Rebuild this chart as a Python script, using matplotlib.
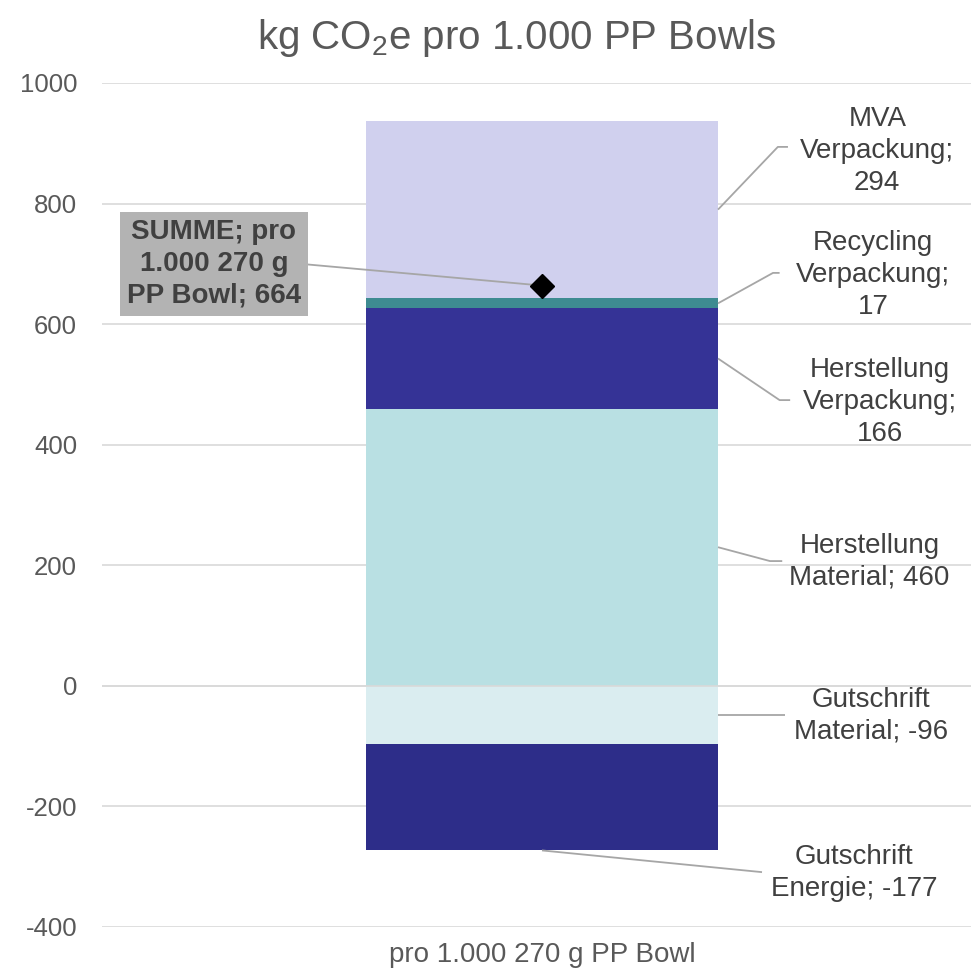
import matplotlib
matplotlib.use("Agg")
import matplotlib.pyplot as plt

plt.rcParams['font.family'] = ['Liberation Sans', 'DejaVu Sans']
plt.rcParams['axes.unicode_minus'] = False
plt.rcParams['mathtext.fontset'] = 'custom'
plt.rcParams['mathtext.rm'] = 'Liberation Sans'

# --- data -------------------------------------------------------------
category = "pro 1.000 270 g PP Bowl"

pos_names = ["Herstellung\nMaterial", "Herstellung\nVerpackung",
             "Recycling\nVerpackung", "MVA\nVerpackung"]
pos_values = [460, 166, 17, 294]
pos_breaks = [" ", "\n", "\n", "\n"]

neg_names = ["Gutschrift\nMaterial", "Gutschrift\nEnergie"]
neg_values = [-96, -177]
neg_breaks = [" ", " "]

total_name = "SUMME; pro\n1.000 270 g\nPP Bowl"

y_ticks = [-400, -200, 0, 200, 400, 600, 800, 1000]

# --- styling ----------------------------------------------------------
pos_colors = ["#b9e0e3", "#353396", "#3e8b91", "#d0d0ee"]
neg_colors = ["#daedf0", "#2d2d89"]
text_dark = "#404040"
tick_grey = "#595959"
grid_grey = "#d9d9d9"
leader_grey = "#a6a6a6"
bar_w = 0.4

# label centre, leader elbow and end of the short horizontal tail
pos_label_layout = [
    dict(xy=(0.372, 206), elbow=(0.259, 207), tail=0.273),
    dict(xy=(0.384, 471), elbow=(0.270, 474), tail=0.282),
    dict(xy=(0.376, 681), elbow=(0.2625, 685), tail=0.270),
    dict(xy=(0.381, 887), elbow=(0.268, 894), tail=0.2795),
]
neg_label_layout = [
    dict(xy=(0.374, -50), elbow=None, tail=0.276),
    dict(xy=(0.355, -311), elbow=None, tail=0.25),
]

fig = plt.figure(figsize=(9.71, 9.77), dpi=100)
ax = fig.add_axes([102 / 971, 50 / 977, 880 / 971, 844 / 977])
ax.set_xlim(-0.5, 0.5)
ax.set_ylim(min(y_ticks), max(y_ticks))

# grid
ax.set_yticks(y_ticks)
ax.yaxis.grid(True, color=grid_grey, linewidth=1.2, zorder=0)
ax.set_axisbelow(True)
for sp in ax.spines.values():
    sp.set_visible(False)
ax.tick_params(axis='both', length=0, colors=tick_grey)
ax.tick_params(axis='y', pad=18, labelsize=18.5)
ax.tick_params(axis='x', pad=11, labelsize=20)
ax.set_xticks([0])
ax.set_xticklabels([category])

lbl_kw = dict(fontsize=20, color=text_dark, ha='center', va='center',
              multialignment='center', linespacing=1.3, zorder=6)
line_kw = dict(color=leader_grey, linewidth=1.3, zorder=5,
               solid_capstyle='butt', clip_on=False)

# positive stack
bottom = 0
for name, val, brk, col, lay in zip(pos_names, pos_values, pos_breaks,
                                    pos_colors, pos_label_layout):
    ax.bar(0, val, bottom=bottom, width=bar_w, color=col, zorder=2,
           linewidth=0)
    mid = bottom + val / 2
    ex, ey = lay['elbow']
    ax.plot([bar_w / 2, ex, lay['tail']], [mid, ey, ey], **line_kw)
    ax.text(*lay['xy'], f"{name};{brk}{val}", **lbl_kw)
    bottom += val

# negative stack
bottom = 0
for i, (name, val, brk, col, lay) in enumerate(zip(neg_names, neg_values,
                                                   neg_breaks, neg_colors,
                                                   neg_label_layout)):
    ax.bar(0, val, bottom=bottom, width=bar_w, color=col, zorder=2,
           linewidth=0)
    if i == 0:
        mid = bottom + val / 2
        ax.plot([bar_w / 2, lay['tail']], [mid, mid], **line_kw)
    else:
        end = bottom + val
        ax.plot([0, lay['tail']], [end, lay['xy'][1] + 2], **line_kw)
    ax.text(*lay['xy'], f"{name};{brk}{val}", **lbl_kw)
    bottom += val

# horizontal axis line at zero drawn over the bar
ax.axhline(0, color=grid_grey, linewidth=1.2, zorder=3)

# net total marker
total = sum(pos_values) + sum(neg_values)
ax.plot(0, total, marker='D', markersize=12, color='black', zorder=7,
        linestyle='none')
ax.annotate(f"{total_name}; {total}", xy=(0, total), xytext=(-0.373, 700),
            fontsize=20, fontweight='bold', color=text_dark,
            ha='center', va='center', multialignment='center',
            linespacing=1.3, zorder=6,
            bbox=dict(boxstyle='square,pad=0.25', fc='#b3b3b3', ec='none'),
            arrowprops=dict(arrowstyle='-', color=leader_grey, lw=1.3,
                            relpos=(1, 0.5), shrinkA=0, shrinkB=0))

fig.text(516 / 971, 1 - 38 / 977, r"kg CO$\mathregular{_2}$e pro 1.000 PP Bowls",
         fontsize=29, color=tick_grey, ha='center', va='center')

fig.savefig("out.png", dpi=100)
